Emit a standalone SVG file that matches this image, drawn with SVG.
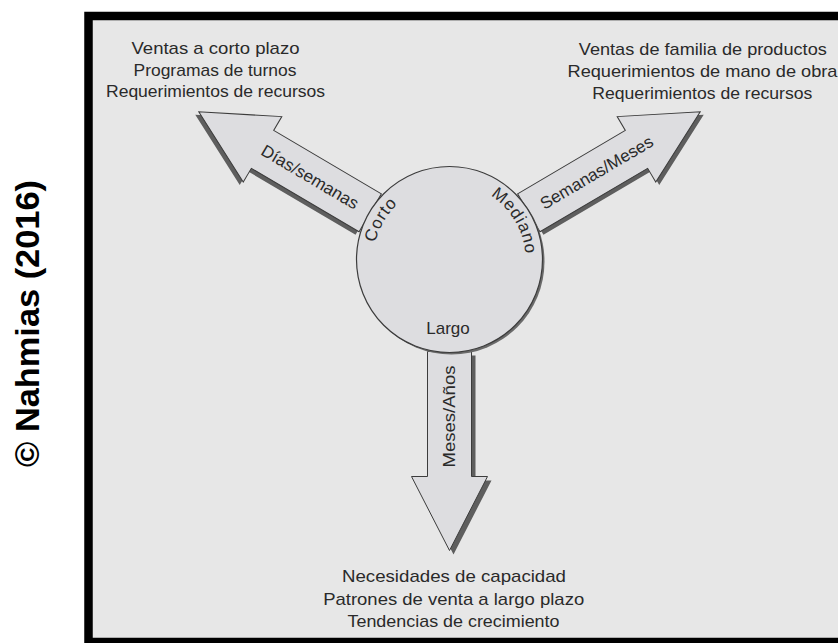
<svg xmlns="http://www.w3.org/2000/svg" width="838" height="643" viewBox="0 0 838 643">
  <style>
    .frame { fill: #e7e7e7; stroke: #000; stroke-width: 8.5; }
    .arrow { fill: #dddde0; stroke: #3c3c3c; stroke-width: 1; }
    .shadow { fill: #5e5e5e; }
    .disc { fill: #dddde0; stroke: #3c3c3c; stroke-width: 1.2; }
    .disc-shadow { fill: #6a6a6a; }
    .txt { font-family: "Liberation Sans", Arial, sans-serif; fill: #2a2a2a; font-size: 17px; }
    .arc { font-family: "Liberation Sans", Arial, sans-serif; fill: #2a2a2a; font-size: 17px; letter-spacing: 0.8px; }
    .lbl { font-family: "Liberation Sans", Arial, sans-serif; fill: #2a2a2a; font-size: 17px; }
    .credit { font-family: "Liberation Sans", Arial, sans-serif; font-weight: bold; fill: #000; font-size: 34px; }
  </style>
  <defs>
    <path id="arrowShape" d="M92,-22 H217 V-38 L291,0 L217,38 V22 H92 Z"/>
    <path id="arcCorto" d="M374.65,272.7 A76,76 0 0 1 423.5,188.1"/>
    <path id="arcMediano" d="M474.9,187.9 A76,76 0 0 1 524.5,272.0"/>
  </defs>

  <rect width="838" height="643" fill="#fff"/>
  <rect class="frame" x="88.5" y="16" width="820" height="626"/>

  <text class="credit" transform="translate(39,323.5) rotate(-90)" text-anchor="middle" textLength="287" lengthAdjust="spacingAndGlyphs">© Nahmias (2016)</text>

  <g id="connectors">
    <g id="arrow-corto">
      <use href="#arrowShape" class="shadow" transform="translate(446,262.5) rotate(210.5)"/>
      <use href="#arrowShape" class="arrow" transform="translate(449.5,259.5) rotate(210.5)"/>
      <text class="lbl" transform="translate(307.1,182) rotate(30.5)" text-anchor="middle" textLength="110" lengthAdjust="spacingAndGlyphs">Días/semanas</text>
    </g>
    <g id="arrow-mediano">
      <use href="#arrowShape" class="shadow" transform="translate(453,262.5) rotate(-30.5)"/>
      <use href="#arrowShape" class="arrow" transform="translate(449.5,259.5) rotate(-30.5)"/>
      <text class="lbl" transform="translate(599.6,177.4) rotate(-30.5)" text-anchor="middle" textLength="128" lengthAdjust="spacingAndGlyphs">Semanas/Meses</text>
    </g>
    <g id="arrow-largo">
      <use href="#arrowShape" class="shadow" transform="translate(453.5,263.5) rotate(90)"/>
      <use href="#arrowShape" class="arrow" transform="translate(449.5,259.5) rotate(90)"/>
      <text class="lbl" transform="translate(454.5,416.5) rotate(-90)" text-anchor="middle" textLength="102" lengthAdjust="spacingAndGlyphs">Meses/Años</text>
    </g>
  </g>

  <g id="node-horizonte">
    <circle class="disc-shadow" cx="451.5" cy="261.5" r="93"/>
    <circle class="disc" cx="449.5" cy="259.5" r="93"/>
    <text class="arc"><textPath href="#arcCorto" startOffset="50%" text-anchor="middle">Corto</textPath></text>
    <text class="arc"><textPath href="#arcMediano" startOffset="50%" text-anchor="middle">Mediano</textPath></text>
    <text class="txt" x="448" y="333.5" text-anchor="middle">Largo</text>
  </g>

  <g id="node-corto-plazo">
    <text class="txt" x="215.5" y="54" text-anchor="middle" textLength="168" lengthAdjust="spacingAndGlyphs">Ventas a corto plazo</text>
    <text class="txt" x="215" y="75.5" text-anchor="middle" textLength="163" lengthAdjust="spacingAndGlyphs">Programas de turnos</text>
    <text class="txt" x="215.5" y="97" text-anchor="middle" textLength="219" lengthAdjust="spacingAndGlyphs">Requerimientos de recursos</text>
  </g>

  <g id="node-mediano-plazo">
    <text class="txt" x="702.8" y="54.5" text-anchor="middle" textLength="248" lengthAdjust="spacingAndGlyphs">Ventas de familia de productos</text>
    <text class="txt" x="702.5" y="76.5" text-anchor="middle" textLength="270" lengthAdjust="spacingAndGlyphs">Requerimientos de mano de obra</text>
    <text class="txt" x="702.3" y="98.5" text-anchor="middle" textLength="220" lengthAdjust="spacingAndGlyphs">Requerimientos de recursos</text>
  </g>

  <g id="node-largo-plazo">
    <text class="txt" x="454" y="582" text-anchor="middle" textLength="224" lengthAdjust="spacingAndGlyphs">Necesidades de capacidad</text>
    <text class="txt" x="453.7" y="604.5" text-anchor="middle" textLength="261" lengthAdjust="spacingAndGlyphs">Patrones de venta a largo plazo</text>
    <text class="txt" x="453.5" y="627" text-anchor="middle" textLength="212" lengthAdjust="spacingAndGlyphs">Tendencias de crecimiento</text>
  </g>
</svg>
